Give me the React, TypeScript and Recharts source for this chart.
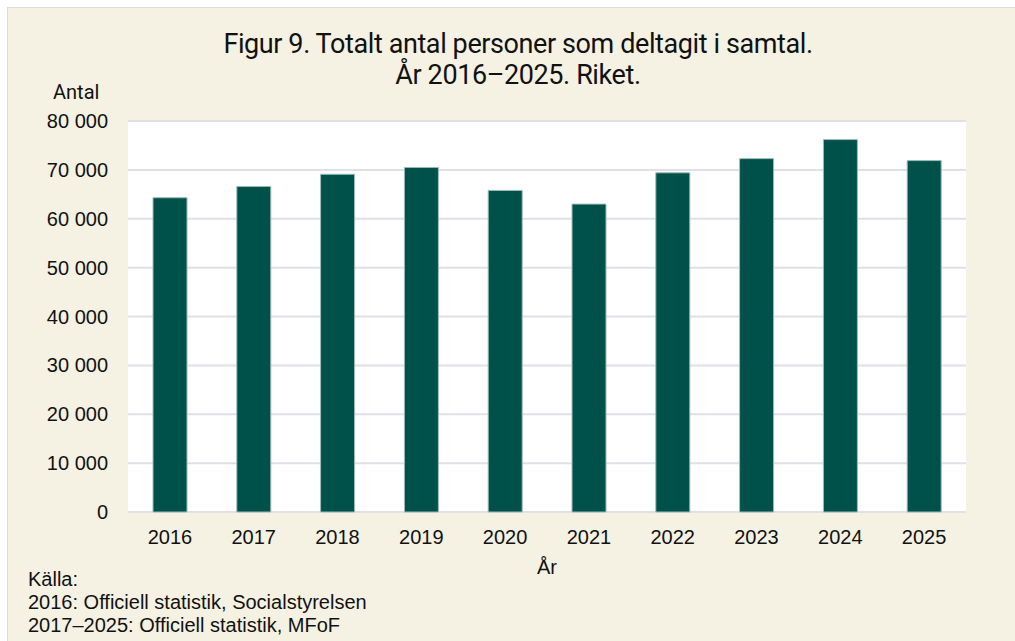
import { BarChart, Bar, XAxis, YAxis, CartesianGrid } from 'recharts';

const years = ['2016', '2017', '2018', '2019', '2020', '2021', '2022', '2023', '2024', '2025'];
const personer = [64300, 66600, 69100, 70500, 65800, 63000, 69400, 72300, 76200, 71900];
const yTicks = [0, 10000, 20000, 30000, 40000, 50000, 60000, 70000, 80000];
const sourceLines = [
  'Källa:',
  '2016: Officiell statistik, Socialstyrelsen',
  '2017–2025: Officiell statistik, MFoF',
];

const data = years.map((year, i) => ({ year, value: personer[i] }));

const BG = '#f5f1e3';
const BAR = '#01514b';
const ARIAL = '"Liberation Sans", Arial, sans-serif';
const ROBOTO = 'Roboto, "Noto Sans", sans-serif';

const fmt = (v: number) => String(v).replace(/\B(?=(\d{3})+(?!\d))/g, ' ');

export default function App() {
  return (
    <div
      style={{
        position: 'absolute',
        left: 7,
        top: 7,
        width: 1008,
        height: 634,
        background: BG,
        borderTop: '1px solid #dcdcdc',
        borderLeft: '1px solid #dcdcdc',
        overflow: 'hidden',
      }}
    >
      <style>{'body{margin:0;overflow:hidden}'}</style>
      <div
        style={{
          position: 'absolute',
          left: 0,
          width: 1020,
          top: 21,
          textAlign: 'center',
          fontFamily: ROBOTO,
          fontSize: 27,
          lineHeight: '31px',
          color: '#111',
          letterSpacing: -0.4,
        }}
      >
        <div>Figur 9. Totalt antal personer som deltagit i samtal.</div>
        <div>År 2016–2025. Riket.</div>
      </div>
      <div
        style={{
          position: 'absolute',
          left: 45,
          top: 72,
          fontFamily: ROBOTO,
          fontSize: 20,
          color: '#111',
        }}
      >
        Antal
      </div>
      <div style={{ position: 'absolute', left: 0, top: 0 }}>
        <BarChart
          width={1008}
          height={634}
          data={data}
          margin={{ top: 113, right: 50, left: 0, bottom: 0 }}
        >
          <CartesianGrid
            vertical={false}
            fill="#ffffff"
            stroke="#e0e0e6"
            strokeWidth={2}
          />
          <XAxis
            dataKey="year"
            height={130}
            axisLine={false}
            tickLine={false}
            tickSize={0}
            tickMargin={18}
            tick={{ fill: '#111', fontSize: 20, fontFamily: ARIAL }}
            label={{
              value: 'År',
              position: 'insideTop',
              offset: 48,
              fill: '#111',
              fontSize: 20,
              fontFamily: ARIAL,
            }}
          />
          <YAxis
            width={120}
            domain={[0, 80000]}
            ticks={yTicks}
            interval={0}
            tickFormatter={fmt}
            axisLine={false}
            tickLine={false}
            tickSize={0}
            tickMargin={20}
            tick={{ fill: '#111', fontSize: 20, fontFamily: ARIAL }}
          />
          <Bar
            dataKey="value"
            fill={BAR}
            stroke="#9dbcb8"
            strokeWidth={1}
            barSize={34}
            isAnimationActive={false}
          />
        </BarChart>
      </div>
      <div
        style={{
          position: 'absolute',
          left: 20,
          top: 560,
          fontFamily: ARIAL,
          fontSize: 20,
          lineHeight: '23px',
          color: '#111',
        }}
      >
        {sourceLines.map((line) => (
          <div key={line}>{line}</div>
        ))}
      </div>
    </div>
  );
}
